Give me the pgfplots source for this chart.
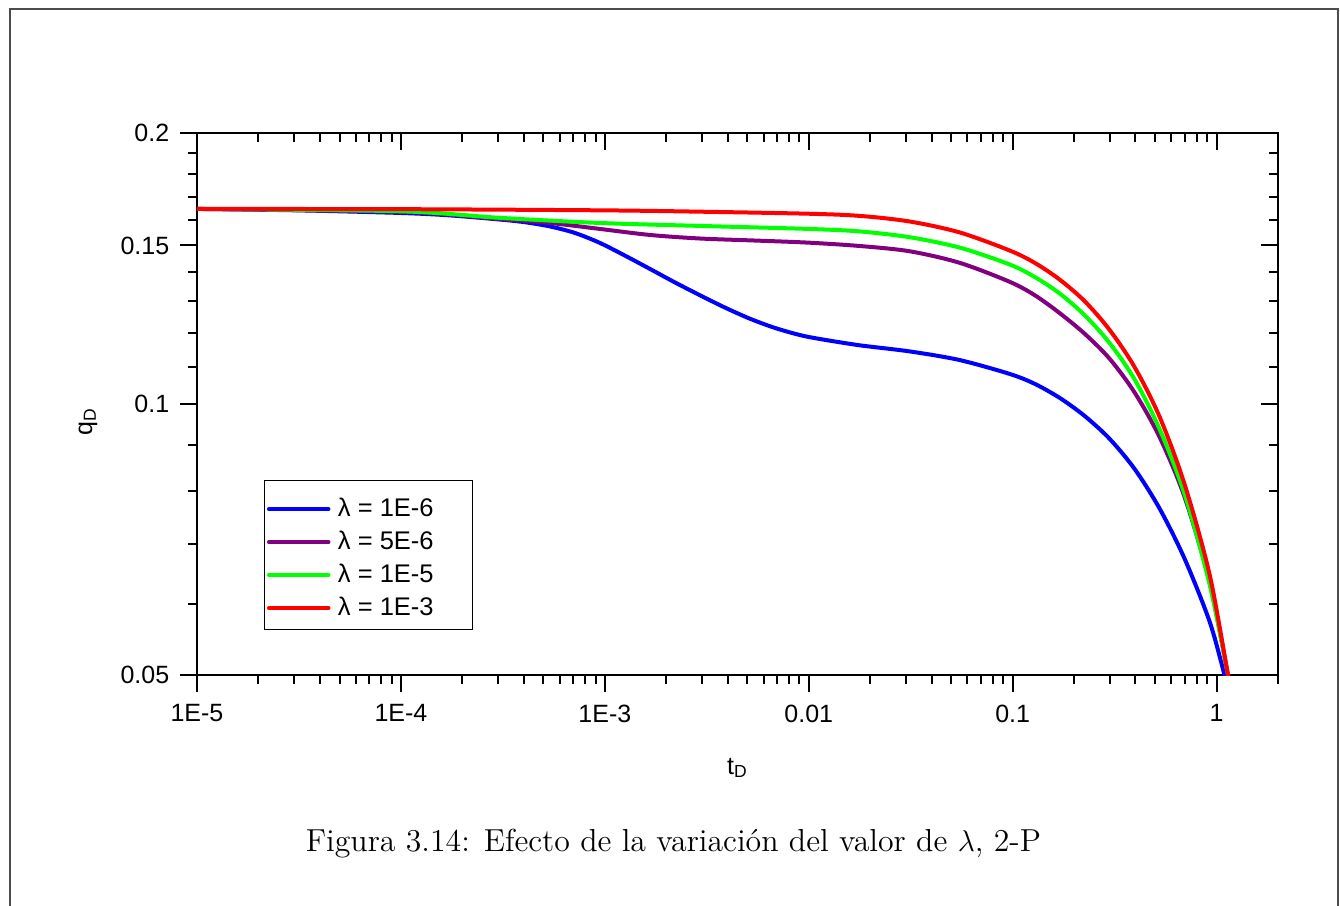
\documentclass[border=0pt]{standalone}
\usepackage{pgfplots}
\pgfplotsset{compat=1.18}
\usepackage{fontspec}
\newfontfamily\arial{Liberation Sans}

\definecolor{cblue}{RGB}{0,0,255}
\definecolor{cpurple}{RGB}{128,0,128}
\definecolor{cgreen}{RGB}{0,255,0}
\definecolor{cred}{RGB}{255,0,0}

% shared frame of both axes (same limits and ticks)
\pgfplotsset{
  qdframe/.style={
    scale only axis, width=432.4pt, height=216.8pt,
    at={(78.8pt,-270pt)}, anchor=south west,
    xmin=1e-5, xmax=2, ymin=0.05, ymax=0.2,
    xtick={1e-5,1e-4,1e-3,1e-2,1e-1,1},
    ytick={0.05,0.1,0.15,0.2},
    minor xtick={2e-5,3e-5,4e-5,5e-5,6e-5,7e-5,8e-5,9e-5,
                 2e-4,3e-4,4e-4,5e-4,6e-4,7e-4,8e-4,9e-4,
                 2e-3,3e-3,4e-3,5e-3,6e-3,7e-3,8e-3,9e-3,
                 0.02,0.03,0.04,0.05,0.06,0.07,0.08,0.09,
                 0.2,0.3,0.4,0.5,0.6,0.7,0.8,0.9,2},
    minor ytick={0.06,0.07,0.08,0.09,0.11,0.12,0.13,0.14,
                 0.16,0.17,0.18,0.19},
    major tick length=6.8pt, minor tick length=3.6pt,
    every tick/.style={black, line width=0.8pt},
  }
}

\begin{document}
\begin{tikzpicture}
\useasboundingbox (0pt,0pt) rectangle (536pt,-362pt);
\draw[black!70, line width=0.8pt] (4pt,-380pt) -- (4pt,-3.6pt) -- (535.2pt,-3.6pt) -- (535.2pt,-380pt);

% inward ticks on top and right
\begin{axis}[xmode=log, ymode=log, qdframe,
  xtick pos=right, ytick pos=right, tick align=inside,
  xticklabels={}, yticklabels={},
  axis line style={draw=none},
]
\end{axis}

\begin{axis}[xmode=log, ymode=log, qdframe,
  axis line style={line width=0.8pt},
  xtick pos=left, ytick pos=left, tick align=outside,
  xticklabels={1E-5,1E-4,1E-3,0.01,0.1,1},
  yticklabels={0.05,0.1,0.15,0.2},
  ticklabel style={font=\arial\fontsize{10}{11}\selectfont},
  xticklabel style={yshift=-1.5pt},
  yticklabel style={xshift=-0.8pt},
  xlabel={t\textsubscript{D}}, ylabel={q\textsubscript{D}},
  label style={font=\arial\fontsize{10}{11}\selectfont},
  xlabel style={at={(axis description cs:0.5,-0.1716)}, anchor=center},
  ylabel style={at={(axis description cs:-0.1008,0.467)}, anchor=center},
  legend style={at={(0.0629,0.3598)}, anchor=north west, yshift=-1.5pt,
    draw=none, fill=none,
    font=\arial\fontsize{10.2}{11}\selectfont,
    inner xsep=0.6pt, inner ysep=4.9pt, row sep=3.1pt, column sep=2.4pt,
    nodes={inner sep=0.6pt, text depth=0.15em}},
  legend cell align=left,
  legend image code/.code={\draw[#1, line width=1.6pt, line cap=round] (0.8pt,0pt) -- (24.6pt,0pt);},
]
\addplot[cblue, line width=1.6pt, smooth] coordinates {
  (1e-5,0.1647) (3.16e-5,0.1641) (1e-4,0.1630) (1.739e-4,0.1620)
  (3.056e-4,0.1603) (4.053e-4,0.1592) (5.375e-4,0.1575) (7.127e-4,0.1549)
  (9.451e-4,0.1510) (1.253e-3,0.1462) (1.662e-3,0.1413) (2.204e-3,0.1365)
  (2.922e-3,0.1321) (3.875e-3,0.1280) (5.138e-3,0.1244) (6.812e-3,0.1215)
  (9.035e-3,0.1193) (0.01132,0.1181) (0.01778,0.1162) (0.03126,0.1144)
  (0.05495,0.1119) (0.09661,0.1080) (0.1282,0.1053) (0.1698,0.1016)
  (0.2253,0.0970) (0.2985,0.0915) (0.3962,0.0847) (0.5262,0.0765)
  (0.6971,0.0673) (0.9247,0.0573) (1.094,0.05) (1.171,0.0473)
};
\addlegendentry{\makebox[53pt][l]{λ = 1E-6}}
\addplot[cpurple, line width=1.6pt, smooth] coordinates {
  (1e-5,0.1647) (1e-4,0.1635) (3.05e-4,0.1605) (5.37e-4,0.1589)
  (9.44e-4,0.1565) (1.663e-3,0.1541) (2.92e-3,0.1527) (5.5e-3,0.1519)
  (9.89e-3,0.1511) (0.01778,0.1498) (0.03126,0.1478) (0.05495,0.1435)
  (0.09661,0.1367) (0.1282,0.1321) (0.1698,0.1262) (0.2253,0.1197)
  (0.2985,0.1123) (0.3962,0.1030) (0.5262,0.0918) (0.6971,0.0788)
  (0.9247,0.0634) (1.137,0.05) (1.216,0.0460)
};
\addlegendentry{\makebox[53pt][l]{λ = 5E-6}}
\addplot[cgreen, line width=1.6pt, smooth] coordinates {
  (1e-5,0.1647) (1e-4,0.1637) (3.05e-4,0.1610) (9.44e-4,0.1589)
  (2.92e-3,0.1577) (9.89e-3,0.1565) (0.01778,0.1555) (0.03126,0.1532)
  (0.05495,0.1492) (0.09661,0.1429) (0.1282,0.1384) (0.1698,0.1327)
  (0.2253,0.1255) (0.2985,0.1169) (0.3962,0.1065) (0.5262,0.0937)
  (0.6971,0.0794) (0.9247,0.0630) (1.137,0.05) (1.216,0.0460)
};
\addlegendentry{\makebox[53pt][l]{λ = 1E-5}}
\addplot[cred, line width=1.6pt, smooth] coordinates {
  (1e-5,0.1647) (1e-4,0.1646) (1e-3,0.1641) (3.16e-3,0.1635)
  (0.01,0.1627) (0.01778,0.1618) (0.03126,0.1595) (0.05495,0.1551)
  (0.09661,0.1481) (0.1282,0.1435) (0.1698,0.1375) (0.2253,0.1301)
  (0.2985,0.1209) (0.3962,0.1099) (0.5262,0.0967) (0.6971,0.0814)
  (0.9247,0.0646) (1.137,0.05) (1.216,0.0460)
};
\addlegendentry{\makebox[53pt][l]{λ = 1E-3}}
% frame round the legend
\draw[black, line width=0.4pt] (rel axis cs:0.0629,0.3598) rectangle (rel axis cs:0.2553,0.0849);
\end{axis}

\node[anchor=base, font=\fontsize{12.73}{15}\selectfont] at (269.4pt,-340.4pt)
  {Figura 3.14: Efecto de la variación del valor de $\lambda$, 2-P};
\end{tikzpicture}
\end{document}
